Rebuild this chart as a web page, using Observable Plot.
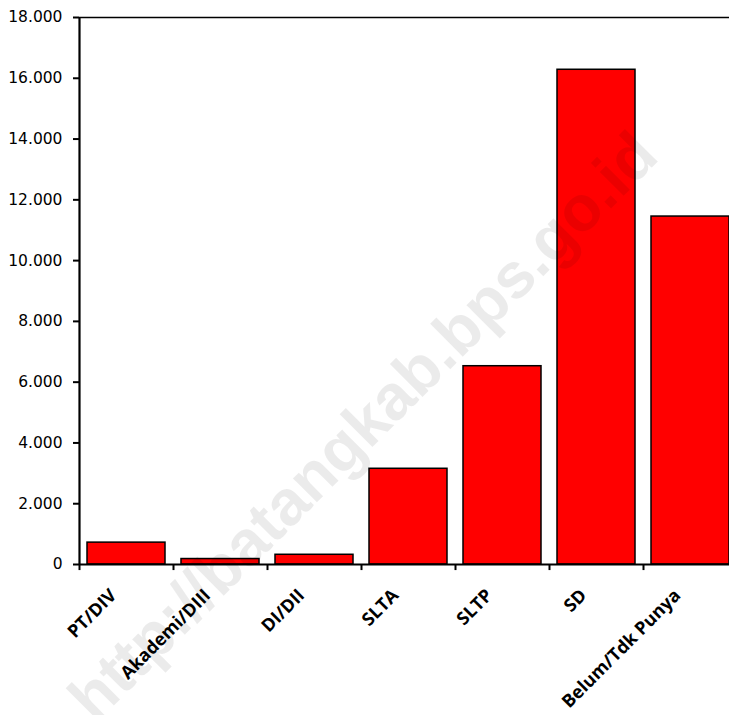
<!DOCTYPE html>
<html>
<head>
<meta charset="utf-8">
<script src="https://cdn.jsdelivr.net/npm/d3@7"></script>
<script src="https://cdn.jsdelivr.net/npm/@observablehq/plot@0.6"></script>
<style>
  html, body { margin: 0; padding: 0; background: #fff; }
  #wrap { width: 729px; height: 715px; overflow: hidden; position: relative; }
  #wrap svg { max-width: none !important; }
</style>
</head>
<body>
<div id="wrap"></div>
<script>
const categories = ["PT/DIV", "Akademi/DIII", "DI/DII", "SLTA", "SLTP", "SD", "Belum/Tdk Punya"];
const values = [720, 180, 320, 3150, 6525, 16280, 11450];
const yTicks = [0, 2000, 4000, 6000, 8000, 10000, 12000, 14000, 16000, 18000];
const watermark = ["http://batangkab.bps.go.id"];

const data = categories.map((c, i) => ({category: c, value: values[i]}));
const fmt = d => d.toLocaleString("id-ID");

const W = 737;
const step = (W - 79) / categories.length;

const chart = Plot.plot({
  width: W,
  height: 715,
  marginLeft: 79,
  marginRight: 0,
  marginTop: 17,
  marginBottom: 151,
  style: {fontFamily: "'Open Sans', sans-serif", background: "white", color: "black", maxWidth: "none"},
  x: {domain: categories, paddingInner: 0.17, paddingOuter: 0.085, label: null},
  y: {domain: [0, 18000], label: null},
  marks: [
    Plot.barY(data, {x: "category", y: "value", fill: "#ff0000", stroke: "black", strokeWidth: 1.5}),
    Plot.ruleY([0], {stroke: "black", strokeWidth: 2.2}),
    Plot.ruleY([18000], {stroke: "black", strokeWidth: 1.5}),
    Plot.ruleX([categories[0]], {dx: -step / 2, stroke: "black", strokeWidth: 2.2}),
    Plot.ruleX(categories, {x: d => d, dx: -step / 2, y1: 0, y2: -200, stroke: "black", strokeWidth: 2}),
    Plot.axisY({ticks: yTicks, tickFormat: fmt, tickSize: 6, tickPadding: 11, fontSize: 15.5, strokeWidth: 2,
      fontFamily: "'DejaVu Sans', sans-serif"}),
    Plot.axisX({tickSize: 0, tickRotate: -45, tickPadding: 28, dx: -13, fontSize: 18, fontWeight: "bold"}),
    Plot.text(watermark, {frameAnchor: "middle", dx: -45, dy: 136, rotate: -45, fontSize: 64, fontWeight: "bold",
      fontFamily: "'Liberation Sans', sans-serif", fill: "black", fillOpacity: 0.08})
  ]
});
chart.style.maxWidth = "none";
document.getElementById("wrap").appendChild(chart);
</script>
</body>
</html>
